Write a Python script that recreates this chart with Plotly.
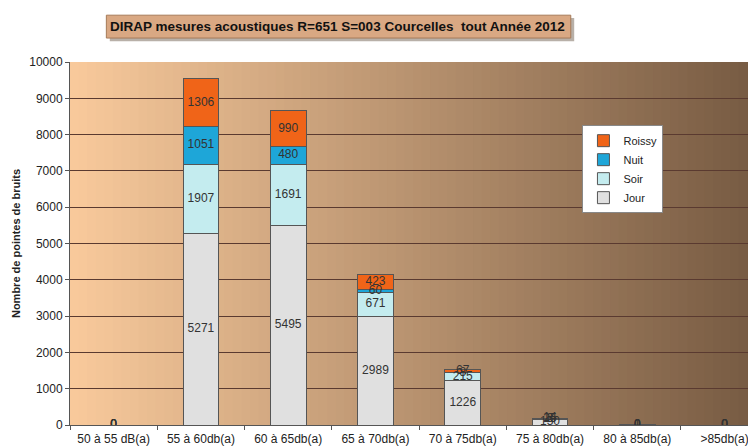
import plotly.graph_objects as go

categories = ["50 à 55 dB(a)", "55 à 60db(a)", "60 à 65db(a)", "65 à 70db(a)",
              "70 à 75db(a)", "75 à 80db(a)", "80 à 85db(a)", ">85db(a)"]
jour = [0, 5271, 5495, 2989, 1226, 150, 1, 0]
soir = [0, 1907, 1691, 671, 215, 25, 0, 0]
nuit = [0, 1051, 480, 60, 8, 3, 0, 0]
roissy = [0, 1306, 990, 423, 67, 14, 0, 0]

series = [("Jour", jour, "#e0e0e0"),
          ("Soir", soir, "#c4ecef"),
          ("Nuit", nuit, "#1ea6d8"),
          ("Roissy", roissy, "#f06418")]

fig = go.Figure()

# background gradient strips (style only)
N = 80
c0 = (249, 202, 156)
c1 = (118, 90, 66)
for i in range(N):
    t = (i + 0.5) / N
    col = tuple(int(round(c0[k] + (c1[k] - c0[k]) * t)) for k in range(3))
    fig.add_shape(type="rect", xref="paper", yref="paper",
                  x0=i / N, x1=(i + 1) / N + 0.002, y0=0, y1=1,
                  fillcolor="rgb(%d,%d,%d)" % col, line_width=0, layer="below")

for name, vals, col in series:
    fig.add_trace(go.Bar(x=categories, y=vals, name=name, width=0.41,
                         marker=dict(color=col, line=dict(color="#555555", width=1))))

# data labels centered in each segment
lx, ly, lt = [], [], []
base = [0] * len(categories)
for name, vals, col in series:
    for i, v in enumerate(vals):
        lx.append(categories[i])
        ly.append(base[i] + v / 2)
        lt.append(str(v))
        base[i] += v
fig.add_trace(go.Scatter(x=lx, y=ly, text=lt, mode="text", showlegend=False,
                         textfont=dict(family="Liberation Sans, Arial", size=12, color="#333333"),
                         hoverinfo="skip"))

# title box with shadow
fig.add_shape(type="rect", xref="paper", yref="paper", x0=0.058, x1=0.735,
              y0=1.057, y1=1.121, fillcolor="#b8b0a8", line_width=0, layer="above")
fig.add_shape(type="rect", xref="paper", yref="paper", x0=0.053, x1=0.730,
              y0=1.066, y1=1.129, fillcolor="#d9a883",
              line=dict(color="#a67a58", width=1), layer="above")
fig.add_annotation(xref="paper", yref="paper", x=0.3905, y=1.0975,
                   text="<b>DIRAP mesures acoustiques R=651 S=003 Courcelles  tout Année 2012</b>",
                   showarrow=False, font=dict(family="Liberation Sans, Arial", size=13.5, color="#111111"),
                   xanchor="center", yanchor="middle")

fig.update_layout(
    width=756, height=448,
    margin=dict(l=52, r=8, t=54, b=31),
    barmode="stack",
    paper_bgcolor="white",
    plot_bgcolor="rgba(0,0,0,0)",
    font=dict(family="Liberation Sans, Arial", size=12, color="#222222"),
    showlegend=True,
    legend=dict(x=0.747, y=0.826, xanchor="left", yanchor="top",
                bgcolor="white", bordercolor="#888888", borderwidth=1,
                traceorder="reversed", font=dict(size=11, color="#222222"),
                itemwidth=30, tracegroupgap=0),
    xaxis=dict(range=[-0.5, 7.36], showline=True, linecolor="#555555",
               ticks="outside", tickson="boundaries", ticklen=4, tickcolor="#555555",
               showgrid=False, tickfont=dict(size=12), ticklabelstandoff=3),
    yaxis=dict(range=[0, 10000], dtick=1000, tickformat="d", showline=True, linecolor="#555555",
               ticks="outside", ticklen=4, tickcolor="#555555",
               showgrid=True, gridcolor="#5a3a30", gridwidth=1, zeroline=False,
               tickfont=dict(size=12),
               title=dict(text="<b>Nombre de pointes de bruits</b>", font=dict(size=11), standoff=6)),
)

fig.write_html("out.html")
